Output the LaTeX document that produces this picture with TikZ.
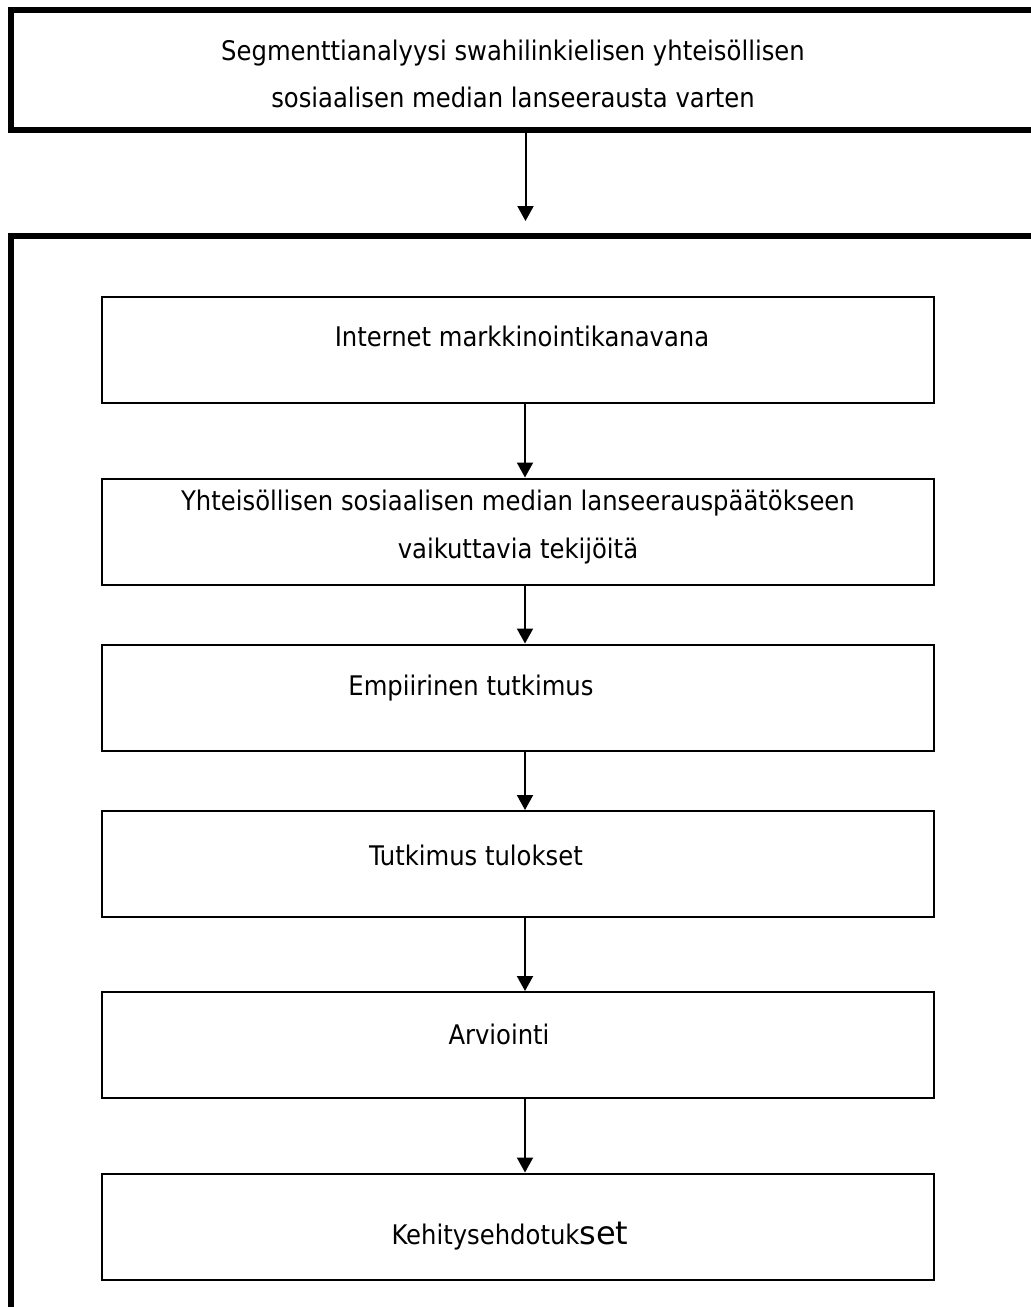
\documentclass[tikz,border=0pt]{standalone}
\usepackage{fontspec}
\usepackage{tikz}
\usepackage{xcolor}
\usetikzlibrary{shapes,arrows,arrows.meta,positioning,calc}
\newfontfamily\boxfont{DejaVu Sans Condensed}
\newfontfamily\setfont{DejaVu Sans}

\tikzset{
    framebox/.style={draw, rectangle, line width=6pt, minimum width=1029pt},
    stagebox/.style={draw, rectangle, line width=2pt, minimum width=832pt, minimum height=106pt},
    boxtext/.style={inner sep=0pt, align=center, font=\boxfont\fontsize{27}{47.5}\selectfont},
    flow/.style={-{Triangle[width=16pt,length=15pt]}, line width=2pt}
}

\begin{document}
\begin{tikzpicture}[x=1pt, y=-1pt]
    \useasboundingbox (0,0) rectangle (1031,1307);
    \clip (0,0) rectangle (1031,1307);

    % Title box
    \node[framebox, minimum height=120pt] (title) at (525.5,70) {};
    \node[boxtext] (titletext) at (513,74) {Segmenttianalyysi swahilinkielisen yhteisöllisen\\sosiaalisen median lanseerausta varten};

    % Outer frame
    \node[framebox, minimum height=1084pt] (frame) at (525.5,778) {};
    \coordinate (frameend) at (525.5,221);

    % Stages
    \node[stagebox] (internet) at (518,350) {};
    \node[stagebox] (factors) at (518,531.5) {};
    \node[stagebox] (empirical) at (518,697.5) {};
    \node[stagebox] (results) at (518,864) {};
    \node[stagebox] (evaluation) at (518,1045) {};
    \node[stagebox] (proposals) at (518,1226.5) {};

    % Stage texts
    \node[boxtext] (internettext) at (522,336) {Internet markkinointikanavana};
    \node[boxtext] (factorstext) at (518,527) {Yhteisöllisen sosiaalisen median lanseerauspäätökseen\\vaikuttavia tekijöitä};
    \node[boxtext] (empiricaltext) at (471,688) {Empiirinen tutkimus};
    \node[boxtext] (resultstext) at (476,855) {Tutkimus tulokset};
    \node[boxtext] (evaluationtext) at (499,1034) {Arviointi};
    \node[boxtext] (proposalstext) at (510,1236) {Kehitysehdotuk{\setfont\fontsize{32}{40}\selectfont set}};

    % Arrows
    \draw[flow] (title.south) -- (frameend);
    \draw[flow] ([xshift=7pt]internet.south) -- ([xshift=7pt]factors.north);
    \draw[flow] ([xshift=7pt]factors.south) -- ([xshift=7pt]empirical.north);
    \draw[flow] ([xshift=7pt]empirical.south) -- ([xshift=7pt]results.north);
    \draw[flow] ([xshift=7pt]results.south) -- ([xshift=7pt]evaluation.north);
    \draw[flow] ([xshift=7pt]evaluation.south) -- ([xshift=7pt]proposals.north);
\end{tikzpicture}
\end{document}
